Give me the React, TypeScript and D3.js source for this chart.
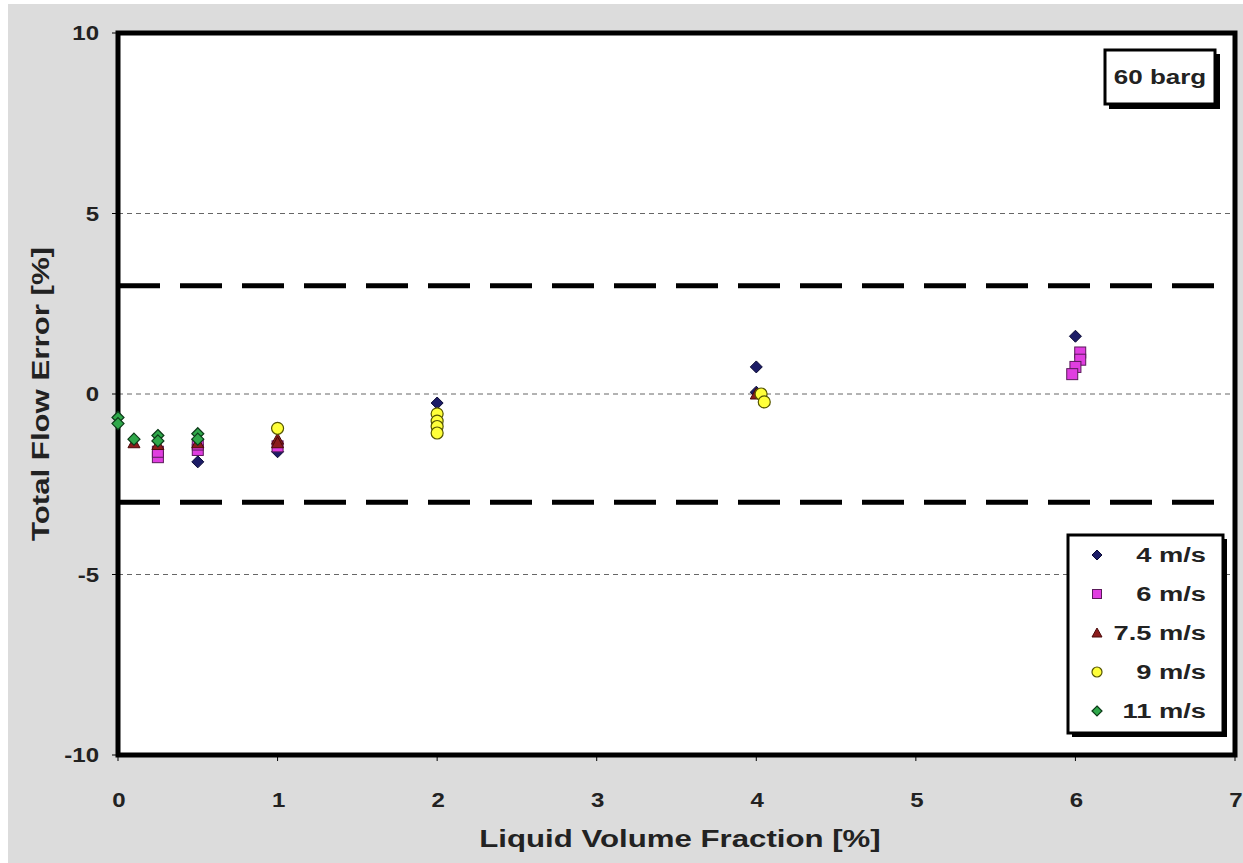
import React from 'react';
import * as d3 from 'd3';

// values
const series4 = [[0.5, -1.88], [1, -1.6], [2, -0.25], [4, 0.75], [4, 0.05], [6, 1.6]];
const series6 = [[0.25, -1.75], [0.25, -1.6], [0.5, -1.55], [0.5, -1.4], [1, -1.45], [6.03, 1.15], [6.03, 0.95], [6.0, 0.75], [5.98, 0.55]];
const series75 = [[0.1, -1.35], [0.25, -1.4], [0.5, -1.35], [1, -1.25], [1, -1.35], [4, 0.0]];
const series9 = [[1, -0.95], [2, -0.55], [2, -0.75], [2, -0.9], [2, -1.08], [4.03, 0.0], [4.05, -0.22]];
const series11 = [[0, -0.65], [0, -0.82], [0.1, -1.25], [0.25, -1.15], [0.25, -1.3], [0.5, -1.1], [0.5, -1.25]];

const legendLabels = ['4 m/s', '6 m/s', '7.5 m/s', '9 m/s', '11 m/s'];
const xTicks = [0, 1, 2, 3, 4, 5, 6, 7];
const yTicks = [-10, -5, 0, 5, 10];
const gridLines = [-5, 0, 5];
const limitLines = [-3, 3];

const W = 1243, H = 863;
const plot = { left: 118, top: 33, right: 1235, bottom: 755 };
const font = '"Liberation Sans", Arial, sans-serif';

// the source picture is stretched sideways, so text gets a horizontal scale
const SText = ({ x, y, size, sx = 1.3, anchor = 'middle', rotate = 0, children }: any) => (
  <text
    transform={`translate(${x},${y}) rotate(${rotate}) scale(${sx},1)`}
    textAnchor={anchor}
    fontSize={size}
    fontWeight="bold"
    fill="#222"
  >
    {children}
  </text>
);

const Marker = ({ kind, x, y, s = 6 }: { kind: string; x: number; y: number; s?: number }) => {
  if (kind === 'diamond') {
    return <path d={`M${x},${y - s}L${x + s},${y}L${x},${y + s}L${x - s},${y}Z`} fill="#1c1c66" stroke="#0a0a33" strokeWidth={1} />;
  }
  if (kind === 'square') {
    const h = s - 0.5;
    return <rect x={x - h} y={y - h} width={2 * h} height={2 * h} fill="#e03ee0" stroke="#5a1a5a" strokeWidth={1} />;
  }
  if (kind === 'triangle') {
    return <path d={`M${x},${y - s}L${x + s},${y + s - 1}L${x - s},${y + s - 1}Z`} fill="#8b1c1c" stroke="#4a0a0a" strokeWidth={1} />;
  }
  if (kind === 'circle') {
    return <circle cx={x} cy={y} r={s} fill="#ffff3a" stroke="#555500" strokeWidth={1.2} />;
  }
  return <path d={`M${x},${y - s}L${x + s},${y}L${x},${y + s}L${x - s},${y}Z`} fill="#2fa84a" stroke="#0c3a18" strokeWidth={1.2} />;
};

export default function App() {
  const x = d3.scaleLinear().domain([0, 7]).range([plot.left, plot.right]);
  const y = d3.scaleLinear().domain([-10, 10]).range([plot.bottom, plot.top]);

  const allSeries = [
    { kind: 'diamond', data: series4 },
    { kind: 'square', data: series6 },
    { kind: 'triangle', data: series75 },
    { kind: 'circle', data: series9 },
    { kind: 'greendiamond', data: series11 },
  ];

  const legend = { left: 1068, top: 535, width: 155, height: 198 };

  return (
    <svg width={W} height={H} style={{ position: 'absolute', left: 0, top: 0 }} fontFamily={font}>
      <rect x={0} y={0} width={W} height={H} fill="#ffffff" />
      <rect x={8} y={4} width={W - 8} height={H - 4} fill="#dcdcdc" />
      <rect x={plot.left} y={plot.top} width={plot.right - plot.left} height={plot.bottom - plot.top} fill="#ffffff" />

      {/* light gridlines */}
      {gridLines.map(v => (
        <line key={'g' + v} x1={plot.left} x2={plot.right} y1={y(v)} y2={y(v)} stroke="#666" strokeWidth={1} strokeDasharray="5,4" />
      ))}
      {/* ±3% limits */}
      {limitLines.map(v => (
        <line key={'l' + v} x1={plot.left} x2={plot.right} y1={y(v)} y2={y(v)} stroke="#000" strokeWidth={5} strokeDasharray="42,20" />
      ))}

      {/* frame */}
      <rect x={plot.left} y={plot.top} width={plot.right - plot.left} height={plot.bottom - plot.top} fill="none" stroke="#000" strokeWidth={5} />

      {/* ticks */}
      {xTicks.map(t => (
        <g key={'x' + t}>
          <line x1={x(t)} x2={x(t)} y1={plot.bottom} y2={plot.bottom + 6} stroke="#000" strokeWidth={1} />
          <SText x={x(t) + 1} y={807} size={20} sx={1.2}>{t}</SText>
        </g>
      ))}
      {yTicks.map(t => (
        <g key={'y' + t}>
          <line x1={plot.left - 6} x2={plot.left} y1={y(t)} y2={y(t)} stroke="#000" strokeWidth={1} />
          <SText x={plot.left - 19} y={y(t) + 7} size={20} sx={1.2} anchor="end">{t}</SText>
        </g>
      ))}

      <SText x={680} y={847} size={24} sx={1.3}>Liquid Volume Fraction [%]</SText>
      <SText x={49} y={y(0)} size={24} sx={1.3} rotate={-90}>Total Flow Error [%]</SText>

      {/* points */}
      {allSeries.map((s, i) => (
        <g key={'s' + i}>
          {s.data.map((d, j) => <Marker key={j} kind={s.kind} x={x(d[0])} y={y(d[1])} />)}
        </g>
      ))}

      {/* 60 barg label */}
      <rect x={1109} y={54} width={111} height={55} fill="#000" />
      <rect x={1105} y={50} width={110} height={54} fill="#fff" stroke="#000" strokeWidth={3} />
      <SText x={1160} y={84} size={20} sx={1.3}>60 barg</SText>

      {/* legend */}
      <rect x={legend.left + 4} y={legend.top + 4} width={legend.width} height={legend.height} fill="#000" />
      <rect x={legend.left} y={legend.top} width={legend.width} height={legend.height} fill="#fff" stroke="#000" strokeWidth={3} />
      {legendLabels.map((lab, i) => {
        const cy = legend.top + 20 + i * 39;
        return (
          <g key={lab}>
            <Marker kind={allSeries[i].kind} x={1097} y={cy} s={5} />
            <SText x={1206} y={cy + 7} size={21} sx={1.3} anchor="end">{lab}</SText>
          </g>
        );
      })}
    </svg>
  );
}
